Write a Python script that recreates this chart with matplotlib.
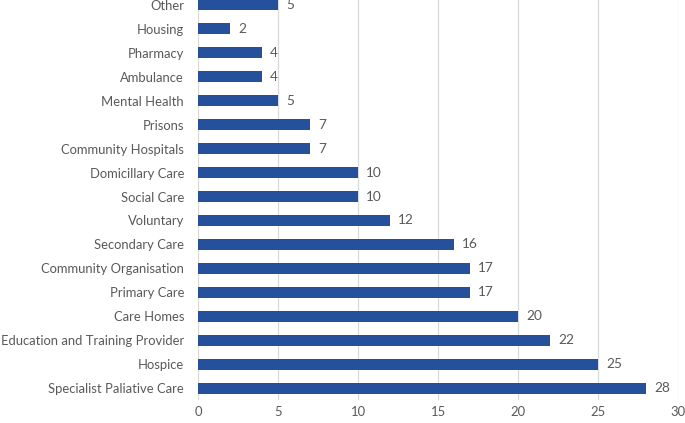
import matplotlib
matplotlib.use('Agg')
import matplotlib.pyplot as plt

categories = ['Specialist Paliative Care', 'Hospice', 'Education and Training Provider',
              'Care Homes', 'Primary Care', 'Community Organisation', 'Secondary Care',
              'Voluntary', 'Social Care', 'Domicillary Care', 'Community Hospitals',
              'Prisons', 'Mental Health', 'Ambulance', 'Pharmacy', 'Housing', 'Other']
counts = [28, 25, 22, 20, 17, 17, 16, 12, 10, 10, 7, 7, 5, 4, 4, 2, 5]
x_ticks = [0, 5, 10, 15, 20, 25, 30]

plt.rcParams['font.family'] = ['Lato', 'DejaVu Sans']
text_col = '#595959'
fs = 9.4

fig = plt.figure(figsize=(6.85, 4.23), dpi=100)
ax = fig.add_axes([198 / 685, 1 - 400 / 423, 480 / 685, 407 / 423])

pos = list(range(len(categories)))
ax.barh(pos, counts, height=0.46, color='#24509C', zorder=3)
for p, v in zip(pos, counts):
    ax.text(v + 0.5, p, str(v), va='center', ha='left', fontsize=fs + 0.4, color=text_col)

ax.set_xlim(0, 30)
ax.set_ylim(-0.5, len(categories) - 0.5)
ax.set_xticks(x_ticks)
ax.set_yticks(pos)
ax.set_yticklabels(categories)
ax.tick_params(axis='both', length=0, labelsize=fs, labelcolor=text_col)
ax.tick_params(axis='x', pad=4)
ax.tick_params(axis='y', pad=10)
ax.grid(axis='x', color='#D9D9D9', linewidth=0.9, zorder=0)
for s in ax.spines.values():
    s.set_visible(False)

fig.savefig('out.png', dpi=100)
